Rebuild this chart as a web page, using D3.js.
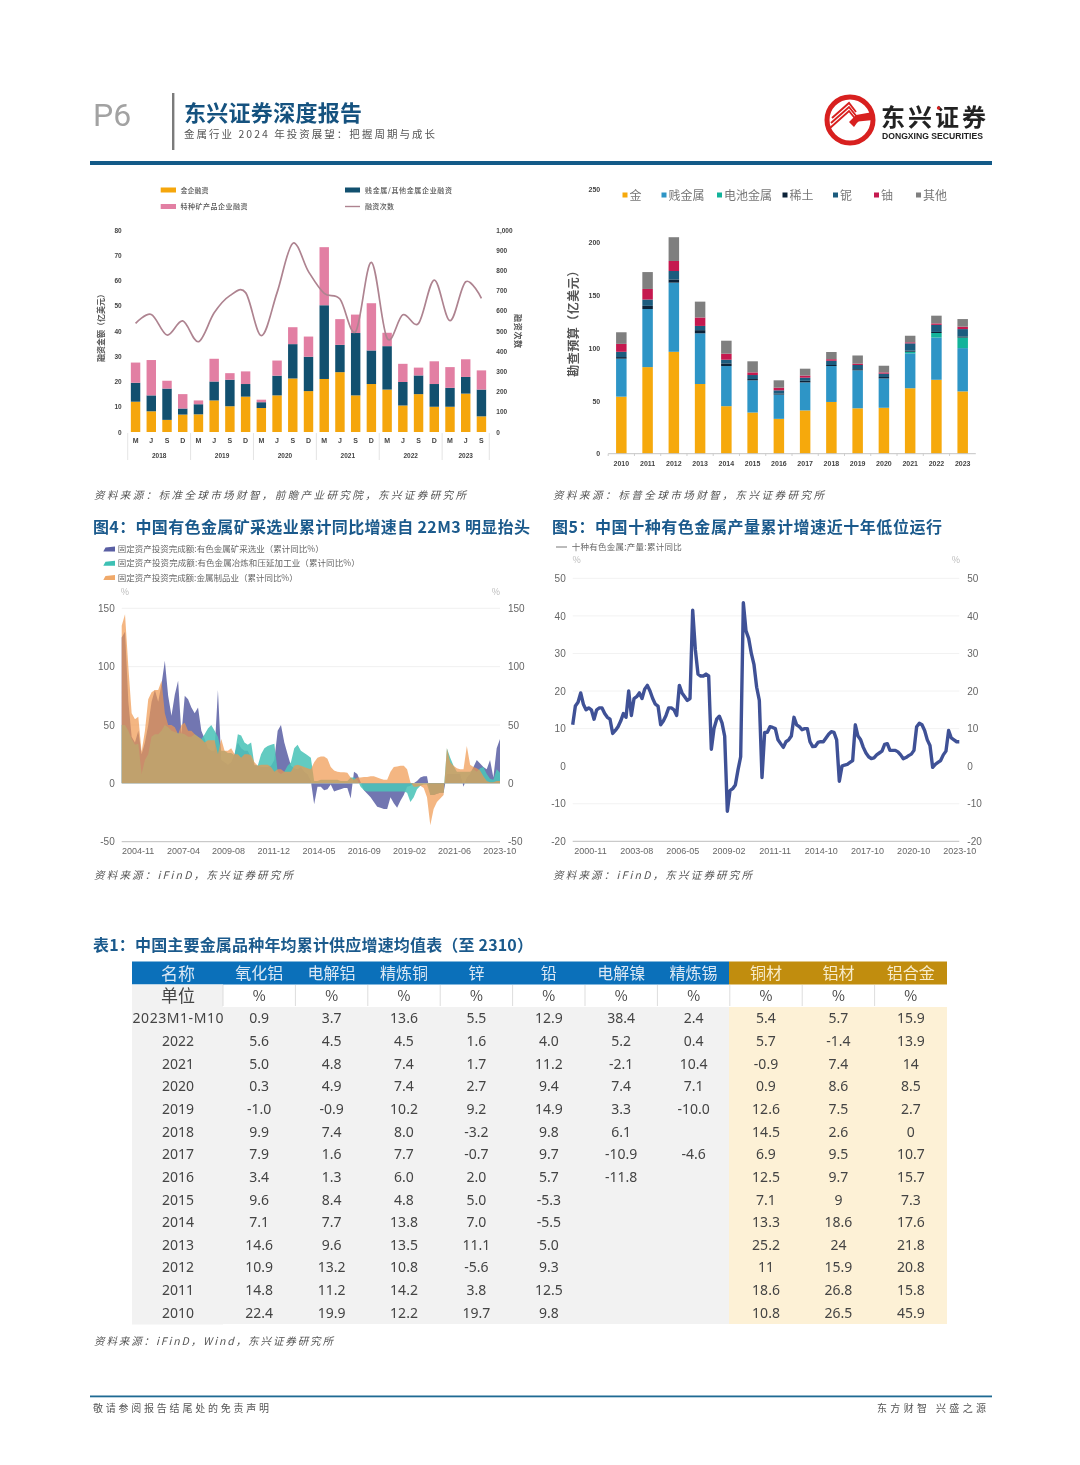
<!DOCTYPE html>
<html><head><meta charset="utf-8">
<script src="https://cdn.jsdelivr.net/npm/d3@7"></script>
<style>
html,body{margin:0;padding:0;background:#fff;width:1080px;height:1465px;overflow:hidden}
svg{display:block;filter:blur(0.45px)}
text{font-family:"Noto Sans CJK SC","Noto Sans",sans-serif}
.axis .domain{display:none}
</style></head><body>
<svg id="page" width="1080" height="1465" viewBox="0 0 1080 1465"></svg>
<script>
// ---------- chart 1: mining financing ----------
const quarterLabels=["M","J","S","D","M","J","S","D","M","J","S","D","M","J","S","D","M","J","S","D","M","J","S"];
const financeYears=["2018","2019","2020","2021","2022","2023"];
const financeYearCounts=[4,4,4,4,4,3];
const goldFinance=[12,8.2,4.8,6.9,7,12.5,10.2,14,9.5,14.5,21.2,16.2,21,23.7,14.5,19,16.8,10.5,15,10,10,15.2,6.2];
const baseFinance=[7.5,6.3,12.4,2.4,4,7.5,10.5,5,2.3,7.8,13.6,13.6,29.2,10.8,24.7,13.3,17.2,9.3,7.4,9,7.5,6.6,10.6];
const specialFinance=[8,14,3.1,5.7,1.5,9,2.6,5,1,6,6.7,8,23,10.2,7.3,18.7,5.3,7.2,3.1,9,8.2,7,7.6];
const financeCount=[538,582,480,550,447,590,675,690,477,690,934,794,686,658,497,840,464,580,538,752,551,744,662];
const financeLegend=["金企融资","贱金属/其他金属企业融资","特种矿产品企业融资","融资次数"];
// ---------- chart 2: exploration budget ----------
const budgetYears=["2010","2011","2012","2013","2014","2015","2016","2017","2018","2019","2020","2021","2022","2023"];
const budgetNames=["金","贱金属","电池金属","稀土","铌","铀","其他"];
const budgetGold=[54,82,96.5,66,45,39,33,41,49,43,43.5,62,70,59];
const budgetBase=[36,55,65.5,48,38,30.5,23,26.5,34,36,27.8,33,40,41];
const budgetBattery=[0,0,0,0,0,0,0,0,0,0,0,1.6,4.3,10];
const budgetRare=[1.5,3,3,3,2.5,1.2,1,1.5,1,1,1.3,1,1,1];
const budgetNiobium=[5,6,8,4,3.5,3.8,3,3,4,4,3.2,6.9,6.7,7];
const budgetUranium=[7.5,10,9.5,8,5.7,2.5,2.5,2,1.5,1.3,1.2,1,1.4,2.3];
const budgetOther=[11,16,22.5,15,12.3,10.5,7,6.5,6.8,7.7,6.3,6.2,7.3,7.2];
// ---------- chart 3: fixed-asset investment ----------
const invTicks=["2004-11","2007-04","2009-08","2011-12","2014-05","2016-09","2019-02","2021-06","2023-10"];
const invLegend=["固定资产投资完成额:有色金属矿采选业（累计同比%）","固定资产投资完成额:有色金属冶炼和压延加工业（累计同比%）","固定资产投资完成额:金属制品业（累计同比%）"];
const invMining=[125,130,70,40,35,45,25,35,50,70,
80,70,85,105,75,58,76,88,42,75,
72,65,60,65,45,38,30,28,28,80,
20,18,16,18,25,35,30,28,28,22,
15,15,14,14,14,15,20,45,50,35,
25,15,13,12,14,10,8,2,-18,-3,
-3,-6,-5,-1,-7,-6,-5,-4,-4,-13,
10,8,1,-6,-9,-12,-16,-20,-21,-22,
-22,-12,-17,-21,-15,-10,-3,-2,0,2,
5,6,6,-10,-10,-9,-8,-8,8,8,
8,8,8,-3,5,8,14,20,17,14,
12,20,5,30,38];
const invSmelting=[50,50,45,38,33,34,8,20,25,40,
42,42,45,50,48,45,44,43,43,42,
40,40,42,40,38,42,47,50,45,40,
28,28,26,26,24,42,41,35,33,35,
16,15,25,30,32,33,34,10,8,10,
15,18,30,33,28,26,24,22,2,2,
3,3,3,3,3,3,2,2,2,5,
5,3,-3,-6,-7,-7,-7,-7,-7,-7,
-7,-7,-7,-7,-7,-7,-8,-16,-12,-5,
-2,-1,-1,-10,-10,-9,-8,-8,30,22,
15,10,10,10,10,10,12,10,13,14,
8,4,3,12,9];
const invProducts=[135,145,100,60,55,57,27,45,72,78,
80,80,88,60,50,50,48,42,50,52,
45,45,42,40,38,35,37,37,37,25,
38,28,28,30,25,25,22,25,25,24,
18,15,16,16,16,14,10,12,12,10,
10,10,15,16,15,14,13,12,18,22,
23,23,21,14,11,10,9.5,9.5,9,5,
3,5,5,5.5,5.5,6,6,5,4,3,
3,10,14,14.5,15,15,12,1,-3,-3,
-2,-4,-12,-36,-22,-16,-13,-10,30,18,
15,13,12,12,32,16,14,13,11,6,
2,1,1,2,2];
// ---------- chart 4: ten nonferrous metals output ----------
const outputTicks=["2000-11","2003-08","2006-05","2009-02","2011-11","2014-10","2017-10","2020-10","2023-10"];
const outputGrowth=[11,16,17,19.5,16.5,15,15.5,15,12.5,15,
15.5,15.5,14,13,12.5,8.7,9.5,10.5,12,14,
13,20,13.5,18,18.5,19.5,18,20.5,21.5,20,
18,16.5,16,11,12,13.5,15.5,15.5,15,13.5,
21.5,19.5,18.5,17.5,18,41.5,31,24.5,24,24,
24.5,24,4.5,10,12.5,13.3,11.5,8,-12,-6.5,
-6,-5,-1,2.5,43.5,36,34,30,27,21,
17.5,-3,9,9,10.5,10.3,10,7,6,5,
6.5,7,8,13,11,10.5,9.7,10,10,6.5,
5.2,5.3,6.3,6.5,6.5,7.5,8.5,9.2,9,7,
-4,0,0.3,0.5,1,1.5,11,8,7,5,
3.5,2.5,2,2.2,3,3.5,4,5.8,6,4.2,
4.2,4.2,3.8,3,2,2.3,2.8,3.2,4.2,10.5,
11.4,11,9.5,7,5.5,-0.3,0.5,1,1.5,3,
4,9.5,7.5,7,6.5,6.5];
// ---------- table ----------
const tableHeads=["名称","氧化铝","电解铝","精炼铜","锌","铅","电解镍","精炼锡","铜材","铝材","铝合金"];
const tableUnits=["单位","%","%","%","%","%","%","%","%","%","%"];
const tableRowNames=["2023M1-M10","2022","2021","2020","2019","2018","2017","2016","2015","2014","2013","2012","2011","2010"];
const tableValues=[
["0.9","3.7","13.6","5.5","12.9","38.4","2.4","5.4","5.7","15.9"],
["5.6","4.5","4.5","1.6","4.0","5.2","0.4","5.7","-1.4","13.9"],
["5.0","4.8","7.4","1.7","11.2","-2.1","10.4","-0.9","7.4","14"],
["0.3","4.9","7.4","2.7","9.4","7.4","7.1","0.9","8.6","8.5"],
["-1.0","-0.9","10.2","9.2","14.9","3.3","-10.0","12.6","7.5","2.7"],
["9.9","7.4","8.0","-3.2","9.8","6.1","","14.5","2.6","0"],
["7.9","1.6","7.7","-0.7","9.7","-10.9","-4.6","6.9","9.5","10.7"],
["3.4","1.3","6.0","2.0","5.7","-11.8","","12.5","9.7","15.7"],
["9.6","8.4","4.8","5.0","-5.3","","","7.1","9","7.3"],
["7.1","7.7","13.8","7.0","-5.5","","","13.3","18.6","17.6"],
["14.6","9.6","13.5","11.1","5.0","","","25.2","24","21.8"],
["10.9","13.2","10.8","-5.6","9.3","","","11","15.9","20.8"],
["14.8","11.2","14.2","3.8","12.5","","","18.6","26.8","15.8"],
["22.4","19.9","12.2","19.7","9.8","","","10.8","26.5","45.9"]];

const svg=d3.select("#page");
function label(s,x,y,o={}){
  const yy=y-0.9;
  const t=svg.append("text").attr("x",x).attr("y",yy).attr("dominant-baseline","central")
    .attr("font-size",o.size||10).attr("fill",o.fill||"#555").attr("font-weight",o.weight||400)
    .attr("text-anchor",o.anchor||"start").text(s);
  if(o.len){t.attr("textLength",o.len).attr("lengthAdjust",o.adjust||"spacing");}
  if(o.italic)t.attr("font-style","italic");
  if(o.family)t.style("font-family",o.family);
  if(o.rotate!==undefined)t.attr("transform",`rotate(${o.rotate},${x},${yy})`);
  return t;
}
function rect(x,y,w,h,fill){return svg.append("rect").attr("x",x).attr("y",y).attr("width",w).attr("height",h).attr("fill",fill);}
function styleAxis(g,size,fill,weight){g.attr("class","axis");g.selectAll(".domain").remove();
  g.selectAll("text").attr("font-size",size).attr("fill",fill).attr("font-weight",weight||400).style("font-family",'"Liberation Sans","Noto Sans",sans-serif');}

// ---------- page furniture ----------
label("P6",93,116,{size:32,fill:"#a2a2a2",family:'Roboto,"Noto Sans",sans-serif',weight:400});
rect(172,93,2.4,57,"#7b7b7b");
label("东兴证券深度报告",184,112,{size:22,fill:"#15527f",weight:700,len:178});
label("金属行业 2024 年投资展望：把握周期与成长",184,134,{size:10.5,fill:"#555",len:251});
rect(90,161,902,4,"#135a88");
// logo
svg.append("circle").attr("cx",850).attr("cy",120).attr("r",23).attr("fill","#fff").attr("stroke","#d8201f").attr("stroke-width",5);
[0,1,2].forEach(i=>svg.append("path").attr("d",`M${830+i},${128-i*5} L${849},${111-i*4} L${858-i*1},${122-i*5}`).attr("fill","none").attr("stroke","#d8201f").attr("stroke-width",1.9));
svg.append("path").attr("d","M849,122 L856,115 L873,112 L873.5,120 L858,121.5 L854,127 Z").attr("fill","#d8201f");
label("东兴证券",881,116.5,{size:24,fill:"#222",weight:700,len:105});
svg.append("circle").attr("cx",938.5).attr("cy",108).attr("r",1.7).attr("fill","#d8201f");
label("DONGXING SECURITIES",882,137,{size:8.5,fill:"#222",weight:700,len:101,adjust:"spacingAndGlyphs",family:'"Liberation Sans",sans-serif'});

// ---------- chart 1 ----------
const x1=d3.scaleBand().domain(d3.range(quarterLabels.length)).range([127.7,489.3]).paddingInner(0.4).paddingOuter(0.2);
const y1=d3.scaleLinear().domain([0,80]).range([432,230]);
const y1r=d3.scaleLinear().domain([0,1000]).range([432,230]);
const finSeries=[[goldFinance,"#f5a60c"],[baseFinance,"#12506f"],[specialFinance,"#e27fa3"]];
const finStack=d3.stack().keys([0,1,2]).value((d,k)=>finSeries[k][0][d])(d3.range(quarterLabels.length));
finStack.forEach((layer,k)=>svg.append("g").selectAll("rect").data(layer).join("rect")
  .attr("x",d=>x1(d.data)).attr("width",x1.bandwidth()).attr("y",d=>y1(d[1])).attr("height",d=>y1(d[0])-y1(d[1])).attr("fill",finSeries[k][1]));
svg.append("path").attr("d",d3.line().x((d,i)=>x1(i)+x1.bandwidth()/2).y(d=>y1r(d)).curve(d3.curveCatmullRom.alpha(0))(financeCount))
  .attr("fill","none").attr("stroke","#ae8390").attr("stroke-width",1.7);
svg.append("g").attr("transform","translate(127.7,0)").call(d3.axisLeft(y1).tickValues(d3.range(0,81,10)).tickSize(0).tickPadding(6)).call(styleAxis,6.5,"#444",700);
svg.append("g").attr("transform","translate(489.3,0)").call(d3.axisRight(y1r).tickValues(d3.range(0,1001,100)).tickSize(0).tickPadding(7).tickFormat(d3.format(","))).call(styleAxis,6.5,"#444",700);
svg.append("g").attr("transform","translate(0,432)").call(d3.axisBottom(x1).tickSize(0).tickPadding(6).tickFormat(i=>quarterLabels[i])).call(styleAxis,7,"#444",700);
let cum=0;
financeYears.forEach((yr,k)=>{
  const start=x1(cum)-x1.step()*x1.paddingInner()/2, end=x1(cum+financeYearCounts[k]-1)+x1.bandwidth()+x1.step()*x1.paddingInner()/2;
  label(yr,(start+end)/2,456.5,{size:6.5,fill:"#444",weight:700,anchor:"middle",family:'"Liberation Sans",sans-serif'});
  svg.append("line").attr("x1",start).attr("x2",start).attr("y1",433).attr("y2",460).attr("stroke","#ddd").attr("stroke-width",.8);
  if(k===financeYears.length-1)svg.append("line").attr("x1",end).attr("x2",end).attr("y1",433).attr("y2",460).attr("stroke","#ddd").attr("stroke-width",.8);
  cum+=financeYearCounts[k];
});
label("融资金额（亿美元）",101,327,{size:8,fill:"#555",weight:700,anchor:"middle",rotate:-90,len:72});
label("融资次数",518,332,{size:8,fill:"#555",weight:700,anchor:"middle",rotate:90,len:34});
rect(160.7,187.5,15.3,5,"#f5a60c");label(financeLegend[0],180.6,190.5,{size:7,fill:"#555",weight:500,len:28});
rect(345,187.5,15,5,"#12506f");label(financeLegend[1],365,190.5,{size:7,fill:"#555",weight:500,len:87});
rect(160.7,204,15.3,5,"#e27fa3");label(financeLegend[2],180.6,207,{size:7,fill:"#555",weight:500,len:67});
svg.append("line").attr("x1",345).attr("x2",360).attr("y1",206.5).attr("y2",206.5).attr("stroke","#ae8390").attr("stroke-width",1.4);
label(financeLegend[3],365,207,{size:7,fill:"#555",weight:500,len:29});

// ---------- chart 2 ----------
const x2=d3.scaleBand().domain(budgetYears).range([608.2,975.8]).paddingInner(0.6).paddingOuter(0.3);
const y2=d3.scaleLinear().domain([0,250]).range([453.7,189.7]);
const budgetSeries=[budgetGold,budgetBase,budgetBattery,budgetRare,budgetNiobium,budgetUranium,budgetOther];
const budgetColors=["#f6a90c","#2e95c6","#12b39b","#0c2238","#1c5c7e","#c5194f","#7f7f7f"];
const budStack=d3.stack().keys(d3.range(7)).value((d,k)=>budgetSeries[k][d])(d3.range(budgetYears.length));
budStack.forEach((layer,k)=>svg.append("g").selectAll("rect").data(layer).join("rect")
  .attr("x",d=>x2(budgetYears[d.data])).attr("width",x2.bandwidth()).attr("y",d=>y2(d[1])).attr("height",d=>y2(d[0])-y2(d[1])).attr("fill",budgetColors[k]));
svg.append("g").attr("transform","translate(608.2,0)").call(d3.axisLeft(y2).tickValues(d3.range(0,251,50)).tickSize(0).tickPadding(8)).call(styleAxis,7,"#444",700);
svg.append("g").attr("transform","translate(0,453.7)").call(d3.axisBottom(x2).tickSize(0).tickPadding(7)).call(styleAxis,7,"#444",700);
svg.append("line").attr("x1",608.2).attr("x2",975.8).attr("y1",453.7).attr("y2",453.7).attr("stroke","#c4c4c4").attr("stroke-width",1);
budgetYears.forEach(d=>svg.append("line").attr("x1",x2(d)-x2.step()*0.3).attr("x2",x2(d)-x2.step()*0.3).attr("y1",453.7).attr("y2",456).attr("stroke","#c4c4c4").attr("stroke-width",.8));
label("勘查预算（亿美元）",572.7,321.7,{size:12,fill:"#555",weight:700,anchor:"middle",rotate:-90,len:112});
const legendX=[622.5,661.5,717,782.5,833,874,916];
const legendW=[10,36,48,24,12,12,24];
budgetNames.forEach((n,k)=>{
  rect(legendX[k],192.5,5,5,budgetColors[k]);
  label(n,legendX[k]+7,195.5,{size:12,fill:"#777",len:legendW[k]+ (n.length==1?2:0)});
});

// ---------- sources & titles ----------
label("资料来源：标准全球市场财智，前瞻产业研究院，东兴证券研究所",94,495,{size:10.5,fill:"#555",italic:true,len:372});
label("资料来源：标普全球市场财智，东兴证券研究所",553,495,{size:10.5,fill:"#555",italic:true,len:271});
label("图4：中国有色金属矿采选业累计同比增速自 22M3 明显抬头",93,527,{size:16,fill:"#1b5a8c",weight:700,len:437});
label("图5：中国十种有色金属产量累计增速近十年低位运行",552,527,{size:16,fill:"#1b5a8c",weight:700,len:390});
label("资料来源：iFinD，东兴证券研究所",94,875,{size:10.5,fill:"#555",italic:true,len:199});
label("资料来源：iFinD，东兴证券研究所",553,875,{size:10.5,fill:"#555",italic:true,len:199});
label("表1：中国主要金属品种年均累计供应增速均值表（至 2310）",93,945,{size:16,fill:"#1b5a8c",weight:700,len:440});
label("资料来源：iFinD，Wind，东兴证券研究所",94,1341,{size:10.5,fill:"#555",italic:true,len:239});

// ---------- chart 3 ----------
const x3=d3.scaleLinear().domain([0,invProducts.length-1]).range([121.7,500]);
const y3=d3.scaleLinear().domain([-50,150]).range([841.7,608.3]);
[150,100,50].forEach(v=>svg.append("line").attr("x1",121.7).attr("x2",500).attr("y1",y3(v)).attr("y2",y3(v)).attr("stroke","#f0f0f0"));
const area3=d3.area().x((d,i)=>x3(i)).y0(y3(0)).y1(d=>y3(d));
[[invMining,"#7276b1",1],[invSmelting,"#4cc4b8",.88],[invProducts,"#f0974d",.7]].forEach(s=>
  svg.append("path").attr("d",area3(s[0])).attr("fill",s[1]).attr("fill-opacity",s[2]));
svg.append("line").attr("x1",121.7).attr("x2",500).attr("y1",841.7).attr("y2",841.7).attr("stroke","#bdbdbd");
svg.append("g").attr("transform","translate(121.7,0)").call(d3.axisLeft(y3).tickValues([-50,0,50,100,150]).tickSize(0).tickPadding(7).tickFormat(String)).call(styleAxis,10,"#666");
svg.append("g").attr("transform","translate(500,0)").call(d3.axisRight(y3).tickValues([-50,0,50,100,150]).tickSize(0).tickPadding(8).tickFormat(String)).call(styleAxis,10,"#666");
const xt3=d3.scalePoint().domain(invTicks).range([137.7,499.3]);
svg.append("g").attr("transform","translate(0,841.7)").call(d3.axisBottom(xt3).tickSize(0).tickPadding(6)).call(styleAxis,9,"#666");
label("%",125,592,{size:9,fill:"#bbb",anchor:"middle"});label("%",496,592,{size:9,fill:"#bbb",anchor:"middle"});
const inv3Colors=["#5a5fa3","#3dc0b4","#f0a96a"];
const invLens=[206,242,180];
invLegend.forEach((s,k)=>{
  const yy=549+k*14.2;
  svg.append("path").attr("d",`M103.3,${yy+2.5} L105.5,${yy-1.5} L115,${yy-2.5} L115,${yy+2.5} Z`).attr("fill",inv3Colors[k]);
  label(s,117.7,yy,{size:8.5,fill:"#666",len:invLens[k]});
});

// ---------- chart 4 ----------
const x4=d3.scaleLinear().domain([0,outputGrowth.length-1]).range([572.7,959.3]);
const y4=d3.scaleLinear().domain([-20,50]).range([841.3,578.3]);
[50,40,30,20,10,-10].forEach(v=>svg.append("line").attr("x1",572.7).attr("x2",959.3).attr("y1",y4(v)).attr("y2",y4(v)).attr("stroke","#f2f2f2"));
svg.append("path").attr("d",d3.line().x((d,i)=>x4(i)).y(d=>y4(d))(outputGrowth)).attr("fill","none").attr("stroke","#3f5196").attr("stroke-width",3.4).attr("stroke-linejoin","round");
svg.append("line").attr("x1",572.7).attr("x2",959.3).attr("y1",841.3).attr("y2",841.3).attr("stroke","#bdbdbd");
svg.append("g").attr("transform","translate(572.7,0)").call(d3.axisLeft(y4).tickValues(d3.range(-20,51,10)).tickSize(0).tickPadding(7).tickFormat(String)).call(styleAxis,10,"#666");
svg.append("g").attr("transform","translate(959.3,0)").call(d3.axisRight(y4).tickValues(d3.range(-20,51,10)).tickSize(0).tickPadding(8).tickFormat(String)).call(styleAxis,10,"#666");
const xt4=d3.scalePoint().domain(outputTicks).range([590,959.3]);
svg.append("g").attr("transform","translate(0,841.3)").call(d3.axisBottom(xt4).tickSize(0).tickPadding(6)).call(styleAxis,9,"#666");
label("%",576.7,560.7,{size:9,fill:"#bbb",anchor:"middle"});label("%",956,560.7,{size:9,fill:"#bbb",anchor:"middle"});
svg.append("line").attr("x1",556).attr("x2",567).attr("y1",547).attr("y2",547).attr("stroke","#555").attr("stroke-width",.8);
label("十种有色金属:产量:累计同比",571.7,547,{size:8.5,fill:"#666",len:110});

// ---------- table ----------
const colEdge=d3.scaleLinear().domain([0,10]).range([223,947]);
const rowY=d3.scaleLinear().domain([0,tableRowNames.length]).range([1007,1324]);
const colCx=i=>i===0?178:(colEdge(i-1)+colEdge(i))/2;
rect(132,961.5,597,23,"#0b70ba");rect(729,961.5,218,23,"#c18d0e");
rect(132,984.5,91,340,"#f2f2f2");
rect(223,1007,506,317,"#f2f2f2");
rect(729,1007,218,317,"#fdf1d6");
d3.range(1,11).forEach(i=>{svg.append("line").attr("x1",colEdge(i-1)).attr("x2",colEdge(i-1)).attr("y1",985).attr("y2",1006).attr("stroke","#ddd").attr("stroke-width",1);});
tableHeads.forEach((h,i)=>label(h,colCx(i),973,{size:i===0?17:16,fill:i>=8?"#f7eccb":"#dbe8f4",anchor:"middle"}));
tableUnits.forEach((h,i)=>label(h,colCx(i),995.5,{size:i===0?17:14,fill:"#444",anchor:"middle"}));
tableRowNames.forEach((r,j)=>{
  const cy=(rowY(j)+rowY(j+1))/2+0.5;
  label(r,colCx(0),cy,{size:14,fill:"#444",anchor:"middle",family:'"Noto Sans",sans-serif',len:j===0?91:undefined});
  tableValues[j].forEach((v,i)=>{if(v!=="")label(v,colCx(i+1),cy,{size:14,fill:"#444",anchor:"middle",family:'"Noto Sans",sans-serif'});});
});

// ---------- footer ----------
rect(90,1395.5,902,1.8,"#1f6a93");
label("敬请参阅报告结尾处的免责声明",93,1408,{size:10,fill:"#555",len:176});
label("东方财智 兴盛之源",877,1408,{size:10,fill:"#555",len:109});
</script>
</body></html>
